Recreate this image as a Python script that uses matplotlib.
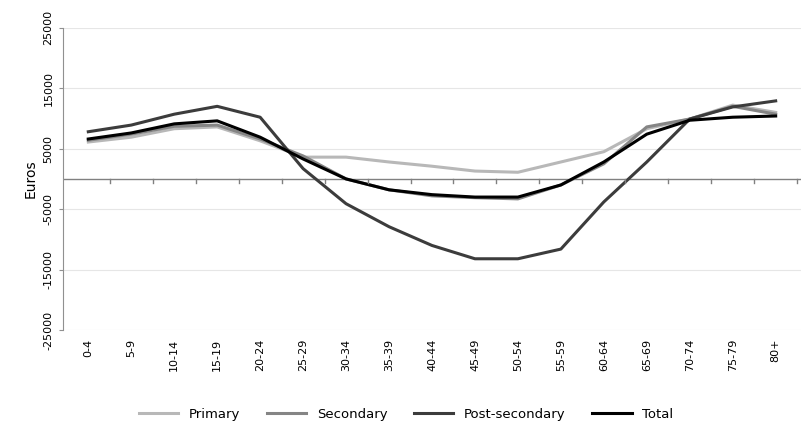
import matplotlib
matplotlib.use("Agg")
import matplotlib.pyplot as plt

cats = ["0-4","5-9","10-14","15-19","20-24","25-29","30-34","35-39","40-44","45-49","50-54","55-59","60-64","65-69","70-74","75-79","80+"]
primary = [6100,6900,8300,8600,6300,3600,3600,2800,2100,1300,1100,2800,4500,8300,9900,12200,11000]
secondary = [6400,7400,8700,8900,6600,3800,0,-1800,-2800,-3100,-3300,-1000,2500,8600,9900,12000,10700]
postsec = [7800,8900,10700,12000,10200,1700,-4100,-7900,-11000,-13200,-13200,-11600,-3800,2800,9900,11900,12900]
total = [6600,7600,9100,9600,6900,3300,0,-1800,-2600,-3000,-3000,-1000,2800,7400,9700,10200,10400]
yticks = [-25000,-15000,-5000,5000,15000,25000]

fig = plt.figure(figsize=(8.12,4.26), dpi=100)
ax = fig.add_axes([0.077,0.225,0.91,0.71])
x = list(range(len(cats)))
ax.plot(x, primary, color="#b8b8b8", lw=2.2, label="Primary")
ax.plot(x, secondary, color="#858585", lw=2.2, label="Secondary")
ax.plot(x, postsec, color="#3c3c3c", lw=2.2, label="Post-secondary")
ax.plot(x, total, color="black", lw=2.2, label="Total")
ax.set_ylim(-25000,25000)
ax.set_xlim(-0.6, len(cats)-0.4)
ax.set_yticks(yticks)
ax.set_yticklabels([str(v) for v in yticks], rotation=90, va="center", fontsize=8)
for v in yticks:
    ax.axhline(v, color="#e6e6e6", lw=0.8, zorder=0)
ax.axhline(0, color="#808080", lw=1, zorder=1)
for s in ["top","right","bottom"]:
    ax.spines[s].set_visible(False)
ax.spines["left"].set_color("#909090")
ax.set_xticks(x)
ax.set_xticklabels(cats, rotation=90, fontsize=8)
ax.tick_params(axis="x", length=0, pad=6)
ax.tick_params(axis="y", length=3, color="#909090")
for i in range(len(cats)):
    ax.plot([i+0.5,i+0.5],[0,-700], color="#808080", lw=1)
ax.set_ylabel("Euros", fontsize=10)
fig.legend(loc="lower center", ncol=4, frameon=False, fontsize=9.5, bbox_to_anchor=(0.5,-0.015), handlelength=3)
fig.savefig("out.png", dpi=100)
